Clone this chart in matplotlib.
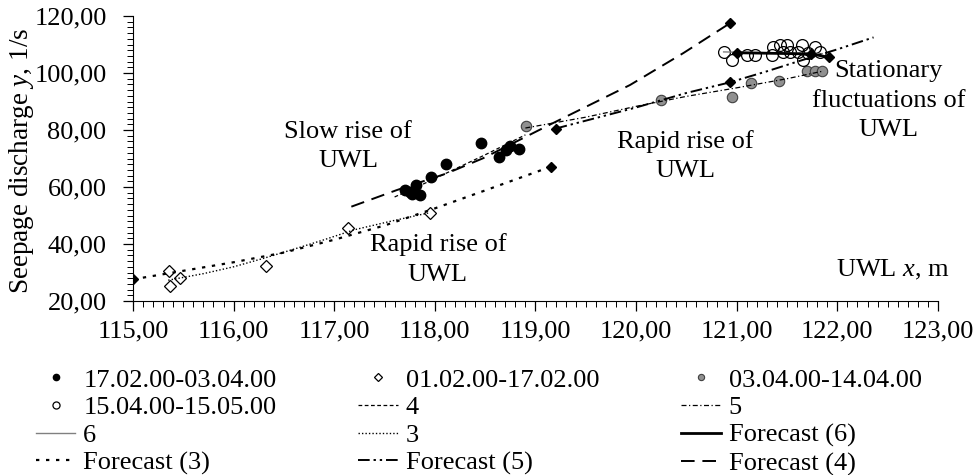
import matplotlib
matplotlib.use('Agg')
import matplotlib.pyplot as plt
from matplotlib.ticker import MultipleLocator, FuncFormatter

plt.rcParams['font.family'] = ['Liberation Serif', 'DejaVu Serif']
plt.rcParams['font.size'] = 19
plt.rcParams['mathtext.fontset'] = 'custom'
plt.rcParams['mathtext.rm'] = 'Liberation Serif'
plt.rcParams['mathtext.it'] = 'Liberation Serif:italic'

# measured points
x_feb = [115.36, 115.37, 115.47, 116.32, 117.14, 117.95]
y_feb = [30.6, 25.3, 28.2, 32.4, 45.6, 50.9]

x_slow = [117.70, 117.75, 117.77, 117.81, 117.85, 117.96, 118.11, 118.46, 118.64, 118.71, 118.75, 118.84]
y_slow = [58.9, 58.4, 57.6, 60.7, 57.2, 63.6, 68.0, 75.3, 70.4, 73.0, 74.4, 73.2]

x_apr = [118.91, 120.25, 120.95, 121.14, 121.42, 121.70, 121.78, 121.85]
y_apr = [81.5, 90.5, 91.7, 96.4, 97.2, 100.8, 100.8, 100.8]

x_may = [120.87, 120.95, 121.10, 121.18, 121.35, 121.36, 121.43, 121.46,
         121.50, 121.53, 121.61, 121.65, 121.66, 121.71, 121.78, 121.83]
y_may = [107.5, 104.6, 106.3, 106.3, 106.3, 109.2, 109.8, 107.5,
         109.8, 107.5, 107.5, 109.8, 104.6, 107.0, 109.2, 107.5]

# trend lines
x_t3 = [115.35, 115.7, 116.0, 116.3, 116.6, 116.9, 117.2, 117.6, 117.95]
y_t3 = [27.3, 29.6, 32.0, 35.0, 38.2, 41.5, 45.0, 48.3, 51.0]
x_t4 = [117.6, 117.9, 118.2, 118.5, 118.9]
y_t4 = [56.5, 61.3, 66.3, 71.3, 78.3]
x_t5 = [118.9, 119.5, 120.0, 120.5, 121.0, 121.5, 121.85]
y_t5 = [80.7, 84.5, 88.3, 91.8, 94.8, 98.0, 100.6]
x_t6 = [120.87, 121.85]
y_t6 = [107.4, 106.8]

# forecasts
x_f3 = [115.0, 115.5, 116.0, 116.5, 117.0, 117.5, 118.0, 118.5, 119.15]
y_f3 = [27.6, 30.6, 33.6, 37.0, 41.5, 46.5, 52.5, 58.8, 67.1]
x_f4 = [117.17, 117.62, 118.12, 118.48, 119.15, 119.94, 120.47, 120.93]
y_f4 = [53.1, 58.9, 64.8, 70.1, 82.0, 95.8, 107.0, 117.4]
x_f5 = [119.2, 119.6, 120.0, 120.5, 120.93, 121.3, 121.63, 122.0, 122.36]
y_f5 = [80.5, 84.2, 87.9, 93.0, 96.7, 100.6, 104.3, 108.3, 112.5]
x_f6 = [121.0, 121.74, 121.92]
y_f6 = [107.1, 106.7, 105.5]

# forecast end points
x_end = [115.0, 119.15, 119.2, 120.93, 120.93, 121.0, 121.74, 121.92]
y_end = [27.6, 67.1, 80.5, 96.9, 117.4, 107.1, 106.7, 105.5]

fig = plt.figure(figsize=(9.75, 4.75), dpi=100)
ax = fig.add_axes([0.1364, 0.3663, 0.8256, 0.6])

h_slow, = ax.plot(x_slow, y_slow, 'o', color='black', ms=7.5, label='17.02.00-03.04.00')
h_feb, = ax.plot(x_feb, y_feb, 'D', mfc='white', mec='black', mew=0.9, ms=6.5, label='01.02.00-17.02.00')
h_apr, = ax.plot(x_apr, y_apr, 'o', mfc='#909090', mec='#404040', mew=0.8, ms=7.5, label='03.04.00-14.04.00')
h_may, = ax.plot(x_may, y_may, 'o', mfc='none', mec='black', mew=0.9, ms=8.5, label='15.04.00-15.05.00')

h4, = ax.plot(x_t4, y_t4, color='black', lw=0.9, dashes=(3, 2), label='4')
h5, = ax.plot(x_t5, y_t5, color='black', lw=0.9, dashes=(4, 2, 1, 2), label='5')
h6, = ax.plot(x_t6, y_t6, color='#808080', lw=1.0, label='6')
h3, = ax.plot(x_t3, y_t3, color='black', lw=1.0, dashes=(1, 1.5), label='3')

hf6, = ax.plot(x_f6, y_f6, color='black', lw=2.0, label='Forecast (6)')
hf3, = ax.plot(x_f3, y_f3, color='black', lw=1.6, dashes=(1.5, 3), label='Forecast (3)')
hf5, = ax.plot(x_f5, y_f5, color='black', lw=1.4, dashes=(6, 2, 1.2, 2, 1.2, 2), label='Forecast (5)')
hf4, = ax.plot(x_f4, y_f4, color='black', lw=1.4, dashes=(7, 4), label='Forecast (4)')

ax.plot(x_end, y_end, 'D', color='black', ms=5, zorder=5)

ax.text(117.14, 74.2, 'Slow rise of\nUWL', ha='center', va='center', linespacing=1.45)
ax.text(118.03, 34.5, 'Rapid rise of\nUWL', ha='center', va='center', linespacing=1.45)
ax.text(120.49, 70.9, 'Rapid rise of\nUWL', ha='center', va='center', linespacing=1.45)
ax.text(122.51, 90.3, 'Stationary\nfluctuations of\nUWL', ha='center', va='center', linespacing=1.45)
ax.text(122.55, 30.9, 'UWL $\\mathit{x}$, m', ha='center', va='center')

ax.set_xlim(115, 123)
ax.set_ylim(20, 120)
ax.set_ylabel('Seepage discharge $\\mathit{y}$, 1/s', fontsize=19.5)
ax.yaxis.set_label_coords(-0.12, 0.49)

fmt = FuncFormatter(lambda v, p: ('%.2f' % v).replace('.', ','))
ax.xaxis.set_major_locator(MultipleLocator(1))
ax.xaxis.set_minor_locator(MultipleLocator(0.1))
ax.yaxis.set_major_locator(MultipleLocator(20))
ax.yaxis.set_minor_locator(MultipleLocator(2))
ax.xaxis.set_major_formatter(fmt)
ax.yaxis.set_major_formatter(fmt)
ax.tick_params(which='major', direction='out', length=7, width=0.9)
ax.tick_params(which='minor', direction='out', length=4, width=0.7)
ax.tick_params(axis='x', pad=7)
ax.tick_params(axis='y', pad=12)

for s in ['top', 'right']:
    ax.spines[s].set_visible(False)

# legend is filled column by column
handles = [h_slow, h_may, h6, hf3,
           h_feb, h4, h3, hf5,
           h_apr, h5, hf6, hf4]
fig.legend(handles=handles, labels=[h.get_label() for h in handles],
           ncol=3, loc='upper left', bbox_to_anchor=(0.0367, 0.225),
           frameon=False, markerscale=0.6, handlelength=1.5, handletextpad=0.3,
           columnspacing=3.1, labelspacing=0.16, borderpad=0, borderaxespad=0)

fig.savefig('out.png', dpi=100)
